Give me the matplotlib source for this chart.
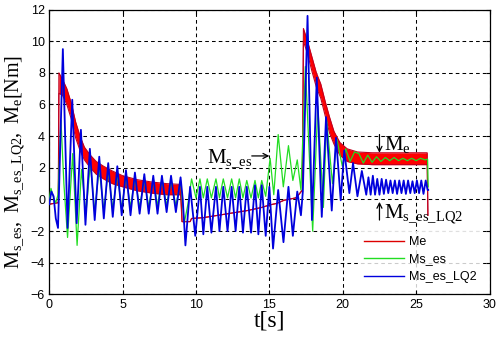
import matplotlib
matplotlib.use('Agg')
import matplotlib.pyplot as plt
from matplotlib.lines import Line2D

# electromagnetic torque Me: time, upper and lower edge of the ripple band
Me_t = [0.0, 0.62, 0.66, 0.9, 1.2, 1.5, 1.8, 2.1, 2.4, 2.8, 3.2, 3.7, 4.3, 5.0,
        6.0, 7.0, 8.0, 8.95, 9.05, 9.6, 9.7, 10.5, 11.5, 12.5, 13.5, 14.5,
        15.0, 15.5, 16.0, 16.8, 17.0, 17.25, 17.32, 17.6, 17.9, 18.2, 18.5,
        18.8, 19.1, 19.4, 19.8, 20.3, 21.0, 22.0, 25.75, 25.8]
Me_hi = [-0.3, -0.2, 8.0, 7.6, 7.0, 6.1, 4.9, 4.0, 3.3, 2.8, 2.4, 2.1, 1.8, 1.5,
         1.25, 1.1, 1.0, 0.95, -1.4, -1.4, -1.2, -1.15, -1.0, -0.85, -0.7, -0.5,
         -0.35, -0.25, -0.05, 0.1, 0.3, 0.6, 10.8, 10.0, 9.0, 8.0, 7.3,
         6.2, 5.2, 4.3, 3.6, 3.2, 3.0, 2.95, 2.95, -1.0]
Me_lo = [-0.3, -0.2, 6.7, 6.6, 6.0, 5.1, 3.9, 3.1, 2.5, 2.0, 1.6, 1.3, 1.0, 0.8,
         0.55, 0.4, 0.3, 0.3, -1.4, -1.4, -1.2, -1.15, -1.0, -0.85, -0.7, -0.5,
         -0.35, -0.25, -0.05, 0.1, 0.3, 0.6, 10.0, 9.2, 8.1, 7.1, 6.4,
         5.3, 4.2, 3.5, 2.8, 2.4, 2.25, 2.2, 2.2, -1.0]

# shaft torque, Ms_es
Ms_t = [0.0, 0.12, 0.3, 0.45, 0.6, 0.8, 1.0, 1.25, 1.6, 1.9, 2.2, 2.5, 2.8, 3.1,
        3.4, 3.72, 4.02, 4.33, 4.64, 4.94, 5.23, 5.54, 5.84, 6.16, 6.48, 6.78,
        7.09, 7.38, 7.68, 8.0, 8.3, 8.63, 8.95, 9.2, 9.45, 9.7, 10.0, 10.27,
        10.5, 10.77, 11.05, 11.36, 11.6, 11.86, 12.15, 12.43, 12.7, 12.95,
        13.2, 13.46, 13.75, 14.02, 14.25, 14.48, 14.75, 15.05, 15.3, 15.6,
        15.95, 16.3, 16.6, 16.9, 17.15, 17.45, 17.95, 18.3, 18.68, 18.9, 19.3,
        19.6, 19.97, 20.2, 20.5, 20.8, 21.1, 21.4, 21.7, 22.0, 22.3, 22.6,
        22.9, 23.2, 23.5, 23.8, 24.1, 24.4, 24.7, 25.0, 25.3, 25.6, 25.78,
        25.82]
Ms = [0.0, 0.7, 0.1, -0.2, 0.3, 5.0, 1.0, -2.4, 2.9, -2.9, 1.9, -0.9, 2.3, -0.8,
      2.0, -0.7, 1.8, -0.6, 1.6, -0.6, 1.5, -0.5, 1.4, -0.5, 1.3, -0.5,
      1.3, -0.4, 1.3, -0.4, 1.2, -0.4, 1.2, -1.5, -0.3, 1.3, 0.1, 1.3,
      0.1, 1.3, 0.1, 1.3, 0.1, 1.3, 0.1, 1.3, 0.1, 1.3,
      0.1, 1.2, 0.1, 1.2, 0.1, 1.2, 0.2, 2.6, 0.3, 4.1,
      0.8, 3.4, 1.2, 2.5, 0.6, 8.4, -2.0, 5.9, -0.5, 5.0, 1.0,
      3.8, 2.1, 3.2, 2.4, 3.0, 2.9, 2.3, 2.8, 2.35, 2.7, 2.4,
      2.65, 2.45, 2.65, 2.45, 2.6, 2.45, 2.6, 2.45, 2.6, 2.5, 2.55,
      0.8]

# shaft torque with LQ2 controller, Ms_es_LQ2
Lq_t = [0.0, 0.15, 0.3, 0.45, 0.6, 0.93, 1.25, 1.57, 1.87, 2.16, 2.47, 2.77,
        3.1, 3.41, 3.72, 4.02, 4.33, 4.64, 4.94, 5.23, 5.54, 5.84, 6.16, 6.48,
        6.78, 7.09, 7.38, 7.68, 8.0, 8.3, 8.63, 8.95, 9.1, 9.28, 9.6, 9.95,
        10.27, 10.5, 10.77, 11.05, 11.36, 11.6, 11.86, 12.15, 12.43, 12.7,
        12.95, 13.2, 13.46, 13.75, 14.02, 14.25, 14.48, 14.75, 15.0, 15.25,
        15.6, 15.96, 16.3, 16.6, 16.9, 17.15, 17.28, 17.6, 17.9, 18.23, 18.57,
        18.86, 19.25, 19.54, 19.86, 20.1, 20.45, 20.7, 21.0, 21.3, 21.6, 21.75,
        21.9, 22.05, 22.2, 22.35, 22.5, 22.65, 22.8, 22.95, 23.1, 23.25, 23.4,
        23.55, 23.7, 23.85, 24.0, 24.15, 24.3, 24.45, 24.6, 24.75, 24.9,
        25.05, 25.2, 25.35, 25.5, 25.65, 25.78, 25.82]
Lq = [-0.3, 0.5, 0.2, -1.2, -1.8, 9.5, -1.8, 6.3, -1.5, 4.4, -1.6, 3.2,
      -1.3, 2.7, -1.2, 2.3, -1.1, 2.1, -1.0, 1.85, -1.0, 1.7, -0.9, 1.6,
      -0.9, 1.5, -0.9, 1.5, -0.8, 1.5, -0.8, 1.4, 0.0, -2.9, 0.8, -2.3,
      0.8, -2.2, 0.8, -2.1, 0.8, -2.0, 0.8, -2.0, 0.8, -2.0,
      0.8, -2.1, 0.8, -2.1, 0.9, -2.2, 0.9, -2.3, 0.8, -3.1,
      0.6, -2.7, 0.8, -2.3, 0.5, -1.0, 0.5, 11.6, -1.3, 7.7, -1.1,
      5.2, -0.7, 3.9, -0.05, 3.1, 0.4, 2.3, 0.2, 1.8, 0.3, 1.4,
      0.3, 1.5, 0.3, 1.3, 0.3, 1.3, 0.35, 1.25, 0.4, 1.2, 0.4,
      1.2, 0.35, 1.2, 0.4, 1.2, 0.35, 1.2, 0.4, 1.15, 0.4,
      1.2, 0.4, 1.2, 0.35, 1.2, 0.6, 0.6]

labels = ['Me', 'Ms_es', 'Ms_es_LQ2']
colors = ['#dd0000', '#22dd22', '#0000dd']

plt.rcParams['mathtext.fontset'] = 'custom'
plt.rcParams['mathtext.rm'] = 'Liberation Serif'
plt.rcParams['mathtext.it'] = 'Liberation Serif'

fig = plt.figure(figsize=(4.97, 3.40), dpi=100)
ax = fig.add_axes([0.099, 0.134, 0.886, 0.838])

ax.fill_between(Me_t, Me_lo, Me_hi, color='#ff0000', lw=0, zorder=2)
ax.plot(Me_t, Me_hi, color='#c00020', lw=0.8, zorder=2)
ax.plot(Me_t, Me_lo, color='#c00020', lw=0.8, zorder=2)
ax.plot(Ms_t, Ms, color=colors[1], lw=0.9, zorder=3)
ax.plot(Lq_t, Lq, color=colors[2], lw=1.3, zorder=4)

ax.set_xlim(0, 30)
ax.set_ylim(-6, 12)
ax.set_xticks(range(0, 31, 5))
ax.set_yticks(range(-6, 13, 2))
ax.grid(True, color='black', linestyle=(0, (3.5, 3)), linewidth=0.75)
ax.tick_params(direction='in', top=True, right=True, length=3,
               labelsize=9, pad=3)
for lab in ax.get_xticklabels() + ax.get_yticklabels():
    lab.set_family('Liberation Sans')
for sp in ax.spines.values():
    sp.set_linewidth(0.9)

ax.set_xlabel('t[s]', family='Liberation Serif', fontsize=17, labelpad=0)
ax.set_ylabel(r'$\mathrm{M_{s\_es},\ M_{s\_es\_LQ2},\ M_e[Nm]}$',
              fontsize=14.5)
ax.yaxis.set_label_coords(-0.05, 0.466)

# labels next to the curves, with thin arrows
arr = dict(arrowstyle='->', lw=0.9, color='black', shrinkA=0, shrinkB=0,
           mutation_scale=9)
ax.text(10.75, 2.3, r'$\mathrm{M_{s\_es}}$', fontsize=15)
ax.annotate('', xy=(15.0, 2.75), xytext=(13.8, 2.75), arrowprops=arr)
ax.annotate('', xy=(22.5, 2.95), xytext=(22.5, 4.1), arrowprops=arr)
ax.text(22.8, 3.1, r'$\mathrm{M_e}$', fontsize=15)
ax.annotate('', xy=(22.5, -0.15), xytext=(22.5, -1.3), arrowprops=arr)
ax.text(22.8, -1.2, r'$\mathrm{M_{s\_es\_LQ2}}$', fontsize=15)

handles = [Line2D([], [], color=c, lw=1.0) for c in colors]
leg = ax.legend(handles, labels, loc='lower right',
                bbox_to_anchor=(0.983, 0.022),
                prop={'family': 'Liberation Sans', 'size': 9},
                handlelength=3.2, handletextpad=0.4, frameon=True,
                fancybox=False, borderaxespad=0, labelspacing=0.45)
leg.get_frame().set_edgecolor('white')
leg.get_frame().set_facecolor('white')

fig.savefig('out.png', dpi=100, facecolor='white')
